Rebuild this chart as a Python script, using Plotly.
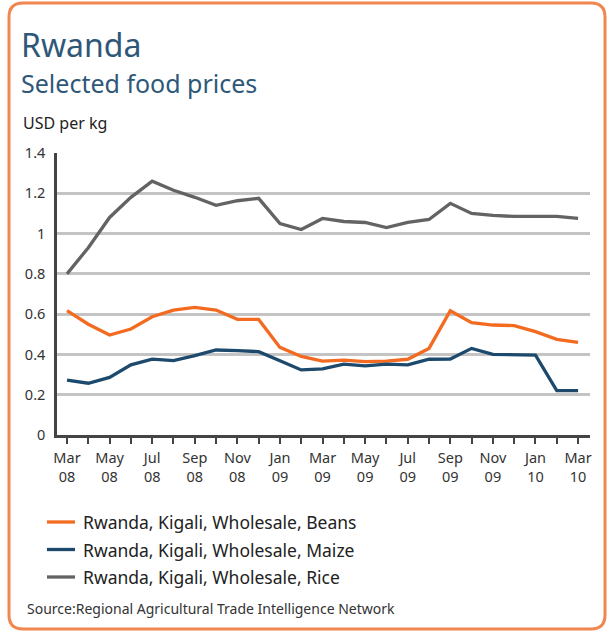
import plotly.graph_objects as go

# Monthly wholesale prices in Kigali, USD per kg (Mar 2008 - Mar 2010)
months = ["2008-03", "2008-04", "2008-05", "2008-06", "2008-07", "2008-08", "2008-09",
          "2008-10", "2008-11", "2008-12", "2009-01", "2009-02", "2009-03", "2009-04",
          "2009-05", "2009-06", "2009-07", "2009-08", "2009-09", "2009-10", "2009-11",
          "2009-12", "2010-01", "2010-02", "2010-03"]
beans = [0.617, 0.55, 0.496, 0.526, 0.587, 0.62, 0.634, 0.62, 0.574, 0.574, 0.435, 0.39,
         0.367, 0.372, 0.364, 0.367, 0.376, 0.43, 0.617, 0.558, 0.546, 0.543, 0.513, 0.475, 0.46]
maize = [0.273, 0.257, 0.286, 0.348, 0.377, 0.369, 0.394, 0.422, 0.419, 0.414, 0.369, 0.323,
         0.328, 0.352, 0.343, 0.352, 0.348, 0.376, 0.377, 0.43, 0.40, 0.397, 0.397, 0.22, 0.22]
rice = [0.80, 0.93, 1.08, 1.18, 1.26, 1.215, 1.18, 1.14, 1.163, 1.175, 1.05, 1.02,
        1.075, 1.06, 1.055, 1.03, 1.055, 1.07, 1.15, 1.10, 1.09, 1.085, 1.085, 1.085, 1.075]
tick_labels = ["Mar<br>08", "", "May<br>08", "", "Jul<br>08", "", "Sep<br>08", "",
               "Nov<br>08", "", "Jan<br>09", "", "Mar<br>09", "", "May<br>09", "",
               "Jul<br>09", "", "Sep<br>09", "", "Nov<br>09", "", "Jan<br>10", "", "Mar<br>10"]
series_names = ["Rwanda, Kigali, Wholesale, Beans",
                "Rwanda, Kigali, Wholesale, Maize",
                "Rwanda, Kigali, Wholesale, Rice"]
series_colors = ["#F26B21", "#1D4A6C", "#636363"]

W, H = 613, 633
PX0, PX1, PY0, PY1 = 57, 590, 153, 435  # plot area in pixels
FONT = "Noto Sans"
TEXT = "#333333"


def fx(px):
    return (px - PX0) / (PX1 - PX0)


def fy(py):
    return (PY1 - py) / (PY1 - PY0)


fig = go.Figure()
for name, vals, col in zip(series_names, [beans, maize, rice], series_colors):
    fig.add_trace(go.Scatter(x=months, y=vals, mode="lines", name=name,
                             line=dict(color=col, width=3.3), showlegend=False))

annotations = [
    dict(text="Rwanda", x=fx(19), y=fy(45), font=dict(size=32, color="#2F5878")),
    dict(text="Selected food prices", x=fx(19), y=fy(83), font=dict(size=25, color="#2F5878")),
    dict(text="USD per kg", x=fx(21), y=fy(123), font=dict(size=16, color="#222222")),
    dict(text="Source:Regional Agricultural Trade Intelligence Network", x=fx(25), y=fy(608),
         font=dict(size=14, color="#333333")),
]
shapes = []
for i, (name, col) in enumerate(zip(series_names, series_colors)):
    yy = 522 + i * 27.5
    shapes.append(dict(type="line", xref="paper", yref="paper", x0=fx(47), x1=fx(75),
                       y0=fy(yy), y1=fy(yy), line=dict(color=col, width=3.3)))
    annotations.append(dict(text=name, x=fx(81), y=fy(yy), font=dict(size=17.5, color="#222222")))
for a in annotations:
    a.update(xref="paper", yref="paper", xanchor="left", yanchor="middle", showarrow=False)
    a["font"]["family"] = FONT

# rounded orange frame around the card
bx0, bx1, by0, by1, r = 9, 605, 3, 629, 14
path = (f"M {fx(bx0 + r)},{fy(by0)} L {fx(bx1 - r)},{fy(by0)} "
        f"Q {fx(bx1)},{fy(by0)} {fx(bx1)},{fy(by0 + r)} L {fx(bx1)},{fy(by1 - r)} "
        f"Q {fx(bx1)},{fy(by1)} {fx(bx1 - r)},{fy(by1)} L {fx(bx0 + r)},{fy(by1)} "
        f"Q {fx(bx0)},{fy(by1)} {fx(bx0)},{fy(by1 - r)} L {fx(bx0)},{fy(by0 + r)} "
        f"Q {fx(bx0)},{fy(by0)} {fx(bx0 + r)},{fy(by0)} Z")
shapes.append(dict(type="path", xref="paper", yref="paper", path=path,
                   line=dict(color="#F0874F", width=3), layer="below"))

fig.update_layout(
    width=W, height=H,
    margin=dict(l=PX0, r=W - PX1, t=PY0, b=H - PY1),
    paper_bgcolor="white", plot_bgcolor="white",
    font=dict(family=FONT, size=14, color=TEXT),
    annotations=annotations, shapes=shapes,
    xaxis=dict(type="category", range=[-0.47, 24.56], tickmode="array",
               tickvals=months, ticktext=tick_labels, ticks="outside", ticklen=6,
               tickwidth=2, tickcolor="#444444", showline=True, linecolor="#444444",
               linewidth=2.5, showgrid=False, zeroline=False, ticklabelstandoff=2,
               tickfont=dict(size=14.5, color=TEXT)),
    yaxis=dict(range=[0, 1.4], tickvals=[0, 0.2, 0.4, 0.6, 0.8, 1, 1.2, 1.4],
               showline=True, linecolor="#444444", linewidth=2.5, showgrid=True,
               gridcolor="#C4C4C4", gridwidth=2.5, zeroline=False, ticks="",
               ticklabelstandoff=6, tickfont=dict(size=14.5, color=TEXT)),
)

fig.write_html("out.html")
